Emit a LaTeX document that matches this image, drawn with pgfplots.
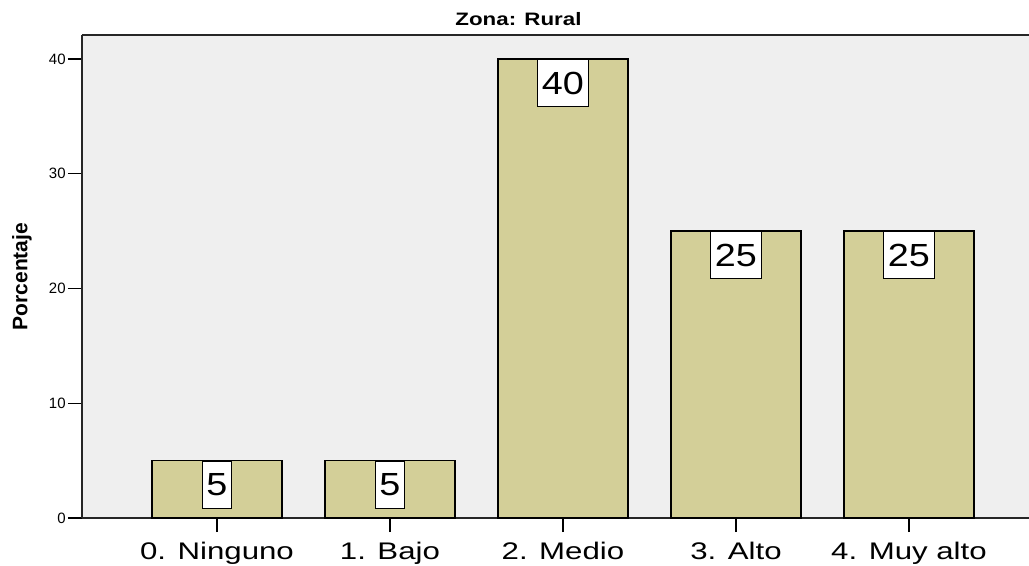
\documentclass[border=0pt]{standalone}
\usepackage{fontspec}
\setmainfont{Liberation Sans}
\newfontfamily\xlabfont[FakeStretch=1.3]{Liberation Sans}
\newfontfamily\boxfont[FakeStretch=1.18]{Liberation Sans}
\newfontfamily\titfont[FakeStretch=1.24]{Liberation Sans}
\usepackage{pgfplots}
\pgfplotsset{compat=1.18}

\definecolor{barfill}{HTML}{D3CF98}
\definecolor{plotbg}{HTML}{EFEFEF}

\begin{document}
\begin{tikzpicture}
\begin{axis}[
    scale only axis,
    width=473.5pt, height=241.5pt,
    xmin=-0.78, xmax=4.694,
    ymin=0, ymax=42.09,
    axis x line=box, axis y line=left,
    axis line style={-, line width=0.75pt, black!85},
    axis background/.style={fill=plotbg},
    xtick=data,
    xticklabels={0. Ninguno, 1. Bajo, 2. Medio, 3. Alto, 4. Muy alto},
    ytick={0,10,20,30,40},
    xtick pos=bottom, ytick pos=left,
    tick align=outside,
    major tick length=7pt,
    tick style={line width=0.75pt, black},
    /pgf/number format/assume math mode=true,
    yticklabel style={font=\fontsize{7.5}{9}\selectfont, inner xsep=1pt},
    xticklabel style={font=\xlabfont\fontsize{12}{14}\selectfont, anchor=north, inner sep=0pt, yshift=-5pt},
    ybar, bar width=65pt, bar shift=0pt,
    nodes near coords,
    every node near coord/.append style={anchor=north, draw=black, line width=0.5pt,
        fill=white, font=\boxfont\fontsize{16}{18}\selectfont,
        minimum height=23.5pt, inner xsep=2.2pt, inner ysep=0pt, yshift=0pt},
]
\addplot[fill=barfill, draw=black, line width=0.75pt] coordinates {(0,5) (1,5) (2,40) (3,25) (4,25)};
\coordinate (sw) at (rel axis cs:0,0);
\coordinate (ne) at (rel axis cs:1,1);
\coordinate (tt) at (rel axis cs:0.5,1);
\coordinate (yl) at (rel axis cs:0,0.5);
\end{axis}
\node[anchor=base, font=\titfont\bfseries\fontsize{9}{11}\selectfont] at ([xshift=-18.5pt, yshift=4.5pt]tt) {Zona: Rural};
\node[rotate=90, font=\bfseries\fontsize{10.5}{12}\selectfont] at ([xshift=-30pt]yl) {Porcentaje};
\pgfresetboundingbox
\path ([xshift=-41pt, yshift=-23.5pt]sw) rectangle ([yshift=17.5pt]ne);
\end{tikzpicture}
\end{document}
